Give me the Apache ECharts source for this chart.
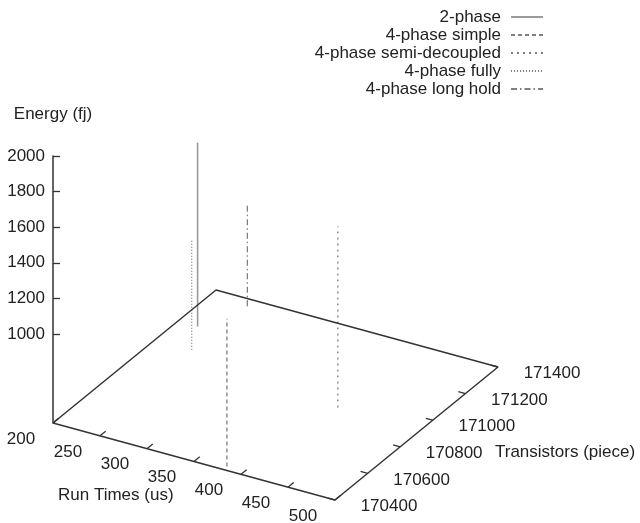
<!DOCTYPE html>
<html>
<head>
<meta charset="utf-8">
<script src="https://cdn.jsdelivr.net/npm/echarts@6/dist/echarts.min.js"></script>
<style>
    html, body { margin: 0; padding: 0; background: #fff; }
    #chart { width: 640px; height: 523px; }
</style>
</head>
<body>
<div id="chart"></div>
<script>
    // values
    const seriesNames = ['2-phase', '4-phase simple', '4-phase semi-decoupled', '4-phase fully', '4-phase long hold'];
    const runTimes = [221, 381, 412, 239, 241];
    const transistors = [171166, 170423, 170925, 171026, 171356];
    const energy = [1533, 1329, 1517, 1117, 1071];

    const runTicks = [200, 250, 300, 350, 400, 450, 500];
    const transTicks = [170400, 170600, 170800, 171000, 171200, 171400];
    const energyTicks = [1000, 1200, 1400, 1600, 1800, 2000];

    const runRange = [200, 500];
    const transRange = [170400, 171400];
    const zBase = 500;   // base plane (ticslevel below 1000)
    const zMax = 2000;

    // oblique view: x in fraction of the hidden x axis, z shift in energy units
    const RX = 0.6337, TX = 0.3663, RZ = 432.6, TZ = 747.2;

    const dashes = ['solid', [4, 3], [2, 4], [1, 2], [6, 3, 1.5, 3]];
    const FONT = 'Liberation Sans';
    const TXT = '#222';

    const project = (run, trans, z) => {
        let fr = (run - runRange[0]) / (runRange[1] - runRange[0]);
        let ft = (trans - transRange[0]) / (transRange[1] - transRange[0]);
        return [fr * RX + ft * TX, z - fr * RZ + ft * TZ];
    };

    const impulses = seriesNames.map((name, i) => ({
        name,
        type: 'line',
        symbol: 'none',
        clip: false,
        silent: true,
        z: 3,
        data: [project(runTimes[i], transistors[i], zBase), project(runTimes[i], transistors[i], energy[i])],
        itemStyle: { color: i === 0 ? '#9a9a9a' : '#808080' },
        lineStyle: { color: i === 0 ? '#9a9a9a' : '#808080', width: i === 0 ? 1.6 : 1.3, type: dashes[i] }
    }));

    const floor = {
        name: 'floor',
        type: 'line',
        symbol: 'none',
        clip: false,
        silent: true,
        z: 4,
        data: [
            project(runRange[0], transRange[0], zBase),
            project(runRange[1], transRange[0], zBase),
            project(runRange[1], transRange[1], zBase),
            project(runRange[0], transRange[1], zBase),
            project(runRange[0], transRange[0], zBase)
        ],
        lineStyle: { color: '#333', width: 1.5 }
    };

    const tickSeries = (ticks, onRun) => ({
        name: onRun ? 'runTicks' : 'transTicks',
        type: 'custom',
        silent: true,
        clip: false,
        z: 5,
        data: ticks.map(v => [v]),
        renderItem(params, api) {
            let v = api.value(0);
            let a, b, dx, dy;
            if (onRun) {
                a = api.coord(project(v, transRange[0], zBase));
                b = api.coord(project(v, transRange[0] + 0.035 * (transRange[1] - transRange[0]), zBase));
                dx = -32; dy = 16;
            } else {
                a = api.coord(project(runRange[1], v, zBase));
                b = api.coord(project(runRange[1] - 0.025 * (runRange[1] - runRange[0]), v, zBase));
                dx = 54; dy = 6.5;
            }
            return {
                type: 'group',
                children: [
                    { type: 'line', shape: { x1: a[0], y1: a[1], x2: b[0], y2: b[1] }, style: { stroke: '#333', lineWidth: 1.3 } },
                    { type: 'text', x: a[0] + dx, y: a[1] + dy,
                      style: { text: String(v), align: 'center', verticalAlign: 'middle', fontSize: 17, fontFamily: FONT, fill: TXT } }
                ]
            };
        }
    });

    const option = {
        animation: false,
        textStyle: { fontFamily: FONT },
        grid: { left: 53, right: 142, top: 156, bottom: 100, outerBoundsMode: 'none' },
        legend: {
            data: seriesNames,
            orient: 'vertical',
            right: 91,
            top: 3,
            align: 'right',
            itemWidth: 32,
            itemHeight: 14,
            itemGap: 0,
            selectedMode: false,
            itemStyle: { color: 'transparent', borderColor: 'transparent', borderWidth: 0 },
            textStyle: { fontSize: 17, lineHeight: 18, color: TXT, padding: [0, 5, 0, 0] }
        },
        xAxis: { type: 'value', min: 0, max: 1, show: false },
        yAxis: {
            type: 'value',
            min: zBase,
            max: zMax,
            name: 'Energy (fj)',
            nameLocation: 'end',
            nameGap: 33,
            nameTextStyle: { fontSize: 17, color: TXT, align: 'center' },
            axisLine: { show: true, onZero: false, lineStyle: { color: '#333', width: 1.5 } },
            axisTick: { show: true, inside: true, length: 7, customValues: energyTicks, lineStyle: { color: '#333', width: 1.3 } },
            axisLabel: { customValues: energyTicks, fontSize: 17, color: TXT, margin: 8, formatter: v => String(v) },
            splitLine: { show: false }
        },
        graphic: [
            { type: 'text', left: 58, top: 487, style: { text: 'Run Times (us)', fontSize: 17, fontFamily: FONT, fill: TXT } },
            { type: 'text', left: 495, top: 444, style: { text: 'Transistors (piece)', fontSize: 17, fontFamily: FONT, fill: TXT } }
        ],
        series: [floor, ...impulses, tickSeries(runTicks, true), tickSeries(transTicks, false)]
    };

    let chart = echarts.init(document.getElementById('chart'));
    chart.setOption(option);
</script>
</body>
</html>
